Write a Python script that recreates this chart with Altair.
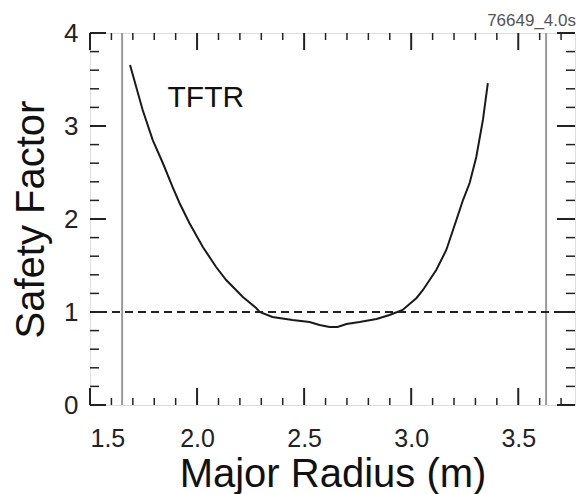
import altair as alt
import pandas as pd

# --- data ---
radius = [1.687, 1.746, 1.793, 1.840, 1.886, 1.918, 1.964, 2.027, 2.089, 2.136,
          2.214, 2.276, 2.292, 2.352, 2.446, 2.525, 2.572, 2.619, 2.656, 2.698,
          2.759, 2.838, 2.899, 2.960, 3.025, 3.055, 3.117, 3.164, 3.211, 3.242,
          3.273, 3.304, 3.335, 3.358]
safety = [3.656, 3.172, 2.849, 2.602, 2.344, 2.172, 1.957, 1.699, 1.484, 1.344,
          1.161, 1.043, 1.000, 0.946, 0.914, 0.892, 0.860, 0.839, 0.839, 0.871,
          0.892, 0.925, 0.968, 1.022, 1.151, 1.237, 1.452, 1.667, 1.989, 2.204,
          2.387, 2.667, 3.065, 3.462]
limit_lines = [1.65, 3.63]
q_ref = [1.0]
label_text = ["TFTR"]
label_x = [1.862]
label_y = [3.20]
shot_label = ["76649_4.0s"]

x_major = [1.5, 2.0, 2.5, 3.0, 3.5]
x_minor = [1.6, 1.7, 1.8, 1.9, 2.1, 2.2, 2.3, 2.4, 2.6, 2.7, 2.8, 2.9,
           3.1, 3.2, 3.3, 3.4, 3.6, 3.7]
y_major = [0, 1, 2, 3, 4]
y_minor = [0.2, 0.4, 0.6, 0.8, 1.2, 1.4, 1.6, 1.8, 2.2, 2.4, 2.6, 2.8,
           3.2, 3.4, 3.6, 3.8]

W, H = 485, 372
FONT = "Liberation Sans"

xs = alt.Scale(domain=[1.5, 3.765], nice=False, zero=False)
ys = alt.Scale(domain=[0, 4], nice=False, zero=False)

x_axis = alt.Axis(
    title="Major Radius (m)", values=x_major, format=".1f", ticks=False,
    domain=False, grid=False, labelFontSize=25, labelFont=FONT,
    labelColor="#222", labelPadding=21, titleFont=FONT, titleFontSize=40,
    titleFontWeight="normal", titleColor="#111", titleBaseline="alphabetic",
    titleY=81)
y_axis = alt.Axis(
    title="Safety Factor", values=y_major, format="d", ticks=False,
    domain=False, grid=False, labelFontSize=26, labelFont=FONT,
    labelColor="#222", labelPadding=12, titleFont=FONT, titleFontSize=40,
    titleFontWeight="normal", titleColor="#111", titlePadding=12)


def X(field):
    return alt.X(field, scale=xs, axis=x_axis)


def Y(field):
    return alt.Y(field, scale=ys, axis=y_axis)


curve_df = pd.DataFrame({"r": radius, "q": safety})

curve = alt.Chart(curve_df).mark_line(color="#1a1a1a", strokeWidth=2).encode(
    x=X("r:Q"), y=Y("q:Q"))

vl = alt.Chart(pd.DataFrame({"r": limit_lines})).mark_rule(
    color="#999999", strokeWidth=2).encode(x=X("r:Q"))

ref = alt.Chart(pd.DataFrame({"q": q_ref})).mark_rule(
    color="#222", strokeWidth=2, strokeDash=[8, 5]).encode(y=Y("q:Q"))

txt = alt.Chart(pd.DataFrame({"t": label_text, "r": label_x, "q": label_y})).mark_text(
    align="left", baseline="alphabetic", fontSize=30, font=FONT, color="#111").encode(
    x=X("r:Q"), y=Y("q:Q"), text="t:N")

shot = alt.Chart(pd.DataFrame({"t": shot_label})).mark_text(
    align="right", baseline="alphabetic", fontSize=17, font=FONT, color="#555").encode(
    x=alt.value(W + 1), y=alt.value(-7), text="t:N")


def xticks(vals, y0, y1, width):
    return alt.Chart(pd.DataFrame({"r": vals})).mark_rule(
        color="#222", strokeWidth=width).encode(
        x=X("r:Q"), y=alt.value(y0), y2=alt.value(y1))


def yticks(vals, x0, x1, width):
    return alt.Chart(pd.DataFrame({"q": vals})).mark_rule(
        color="#222", strokeWidth=width).encode(
        y=Y("q:Q"), x=alt.value(x0), x2=alt.value(x1))


ticks = [
    xticks(x_minor, H, H - 7, 1.5), xticks(x_major, H, H - 17, 2),
    xticks(x_minor, 0, 7, 1.5), xticks(x_major, 0, 17, 2),
    yticks(y_minor, 0, 9, 1.5), yticks(y_major, 0, 16, 2),
    yticks(y_minor, W, W - 9, 1.5), yticks(y_major, W, W - 18, 2),
]

chart = alt.layer(curve, vl, ref, txt, shot, *ticks).properties(
    width=W, height=H,
    padding={"left": 90, "top": 33, "right": 4, "bottom": 89},
    autosize=alt.AutoSizeParams(type="none"),
).configure_view(stroke="#222", strokeWidth=2).configure(background="white")

chart.save("out.html", embed_options={"renderer": "svg", "actions": False})
